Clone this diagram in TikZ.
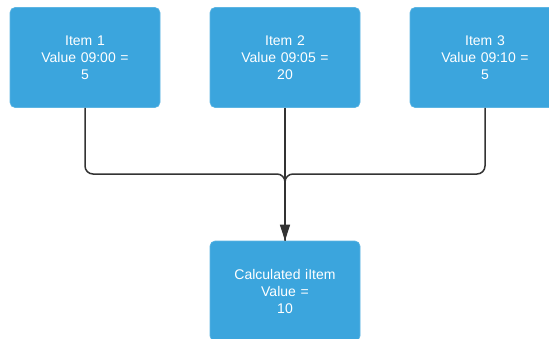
\documentclass[tikz,border=0pt]{standalone}
\usepackage{fontspec}
\setmainfont{Liberation Sans}
\usetikzlibrary{arrows.meta}
\definecolor{boxblue}{HTML}{3BA5DD}
\definecolor{boxedge}{HTML}{5DB5E3}
\definecolor{linegray}{HTML}{333333}
\tikzset{
  itembox/.style={draw=boxedge, line width=0.6pt, fill=boxblue, rounded corners=5pt,
    minimum width=150pt, minimum height=100pt, inner sep=0pt,
    text width=146pt, align=center, text=white,
    font=\fontsize{14}{17}\selectfont},
  link/.style={draw=linegray, line width=1.5pt, rounded corners=8pt},
  tip/.style={-{Triangle[length=16pt,width=10pt]}}
}
\begin{document}
\begin{tikzpicture}[x=1pt,y=-1pt]
\useasboundingbox (0,0) rectangle (549,338);
\clip (0,0) rectangle (549,338);
\node[itembox] (i1) at (85,57.5) {Item 1\\Value 09:00 =\\5};
\node[itembox] (i2) at (285,57.5) {Item 2\\Value 09:05 =\\20};
\node[itembox] (i3) at (485,57.5) {Item 3\\Value 09:10 =\\5};
\node[itembox] (calc) at (285,291) {Calculated iItem\\Value =\\10};
\draw[link] (i1.south) -- (85,174) -- (285,174) -- (calc.north);
\draw[link] (i3.south) -- (485,174) -- (285,174) -- (calc.north);
\draw[link,tip] (i2.south) -- (calc.north);
\end{tikzpicture}
\end{document}
